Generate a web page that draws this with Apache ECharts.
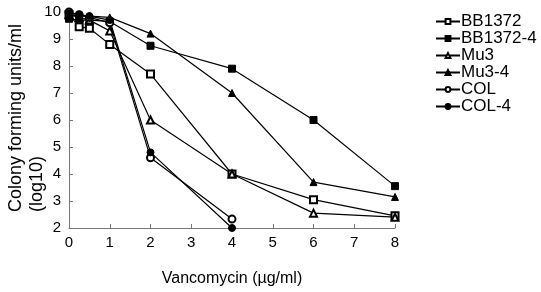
<!DOCTYPE html>
<html>
<head>
<meta charset="utf-8">
<script src="https://cdn.jsdelivr.net/npm/echarts@6/dist/echarts.min.js"></script>
<style>
  html, body { margin: 0; padding: 0; background: #fff; }
  #chart { width: 541px; height: 292px; }
</style>
</head>
<body>
<div id="chart"></div>
<script>
// Vancomycin kill curves, log10 CFU/ml
const doses = [0, 0.25, 0.5, 1, 2, 4, 6, 8];

const bb1372 = [9.9, 9.45, 9.4, 8.8, 7.7, 4.0, 3.05, 2.45];
const bb1372_4 = [9.75, 9.7, 9.7, 9.65, 8.75, 7.9, 6.0, 3.55];
const mu3 = [9.9, 9.8, 9.7, 9.3, 6.0, 4.0, 2.55, 2.4];
const mu3_4 = [9.9, 9.85, 9.85, 9.8, 9.2, 7.0, 3.7, 3.15];
const col = [10.0, 9.9, 9.8, 9.6, 4.6, 2.33];
const col_4 = [9.95, 9.9, 9.85, 9.7, 4.8, 2.0];

const seriesDefs = [
    ["BB1372", bb1372, "emptyRect"],
    ["BB1372-4", bb1372_4, "rect"],
    ["Mu3", mu3, "emptyTriangle"],
    ["Mu3-4", mu3_4, "triangle"],
    ["COL", col, "emptyCircle"],
    ["COL-4", col_4, "circle"]
];

const font = "Liberation Sans, Arial, sans-serif";

const chart = echarts.init(document.getElementById("chart"));

chart.setOption({
    backgroundColor: "#fff",
    animation: false,
    grid: { left: 69, right: 146, top: 12, bottom: 60 },
    xAxis: {
        type: "value",
        min: 0,
        max: 8,
        interval: 1,
        name: "Vancomycin (µg/ml)",
        nameLocation: "middle",
        nameGap: 43,
        nameTextStyle: { color: "#000", fontSize: 16, fontFamily: font },
        axisLine: { lineStyle: { color: "#777", width: 1 } },
        axisTick: { inside: true, length: 4, lineStyle: { color: "#777" } },
        axisLabel: { color: "#000", fontSize: 15, fontFamily: font, margin: 7 },
        splitLine: { show: false }
    },
    yAxis: {
        type: "value",
        min: 2,
        max: 10,
        interval: 1,
        axisLine: { show: true, lineStyle: { color: "#777", width: 1 } },
        axisTick: { show: true, inside: true, length: 4, lineStyle: { color: "#777" } },
        axisLabel: { color: "#000", fontSize: 15, fontFamily: font, margin: 8 },
        splitLine: { show: false }
    },
    legend: {
        orient: "vertical",
        left: 430,
        top: 8,
        itemGap: 0,
        itemWidth: 24,
        itemHeight: 6,
        textStyle: { color: "#000", fontSize: 17, lineHeight: 16, fontFamily: font, padding: [0, 0, 0, -4] },
        data: seriesDefs.map(d => d[0])
    },
    graphic: [{
        type: "text",
        left: 6,
        top: 24,
        style: {
            text: "Colony forming units/ml\n(log10)",
            fill: "#000",
            font: "18px " + font,
            lineHeight: 21
        },
        rotation: Math.PI / 2,
        originX: 0,
        originY: 0
    }],
    series: seriesDefs.map(([name, vals, sym]) => ({
        name,
        type: "line",
        data: vals.map((v, i) => [doses[i], v]),
        symbol: sym,
        symbolSize: 7,
        showAllSymbol: true,
        color: "#000",
        lineStyle: { color: "#000", width: 1.2 },
        itemStyle: { color: "#000", borderColor: "#000", borderWidth: 1 }
    }))
});
</script>
</body>
</html>
